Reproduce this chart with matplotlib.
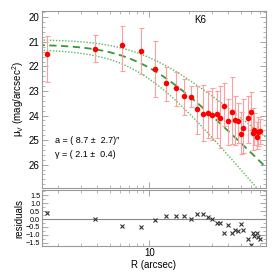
import numpy as np
import matplotlib
matplotlib.use("Agg")
import matplotlib.pyplot as plt
from matplotlib.ticker import MultipleLocator, FixedLocator, NullFormatter

plt.rcParams['font.family'] = ['Liberation Sans', 'DejaVu Sans']
plt.rcParams['mathtext.default'] = 'regular'

# data
radius = [1.65, 3.81, 6.21, 8.61, 10.98, 13.4, 15.96, 18.3, 20.8, 23.2,
          25.6, 27.9, 30.2, 32.7, 34.8, 37.3, 40.1, 42.7, 44.8, 47.4,
          49.9, 52.2, 57.0, 59.6, 61.3, 63.1, 65.8, 67.3, 70.4]
mu = [21.51, 21.29, 21.13, 21.37, 22.12, 22.69, 22.89, 23.20, 23.23, 23.74,
      23.95, 23.91, 23.98, 23.92, 24.11, 23.63, 24.21, 23.85, 24.20, 24.21,
      24.77, 24.52, 24.11, 23.84, 24.70, 24.59, 24.87, 24.66, 24.64]
err_bright = [0.75, 0.57, 0.77, 0.92, 1.15, 0.68, 0.67, 0.69, 0.43, 0.95,
              1.20, 0.90, 1.10, 0.90, 1.30, 0.95, 0.90, 1.40, 1.00, 0.70,
              0.90, 1.20, 0.90, 0.80, 1.00, 0.70, 0.60, 0.60, 0.50]
err_faint = [1.11, 0.54, 1.06, 0.95, 1.11, 0.72, 0.72, 0.78, 0.43, 1.00,
             1.10, 1.00, 1.00, 1.00, 1.20, 0.80, 1.00, 1.30, 1.00, 0.90,
             0.80, 1.00, 1.00, 0.75, 0.70, 0.60, 0.50, 0.60, 0.50]
resid = [0.41, 0.03, -0.41, -0.48, -0.05, 0.22, 0.16, 0.20, 0.03, 0.31,
         0.33, 0.10, 0.01, -0.24, -0.22, -0.86, -0.37, -0.88, -0.67, -0.73,
         -0.33, -0.69, -1.26, -1.61, -0.86, -1.05, -0.86, -1.12, -1.24]

# fitted profile parameters (best, bright bound, faint bound)
fit_best = (21.1, 8.7, 2.1)
fit_bright = (20.9, 9.0, 1.7)
fit_faint = (21.3, 8.3, 2.5)


def profile(r, mu0, a, gamma):
    return mu0 + 1.25 * gamma * np.log10(1 + (r / a) ** 2)


spine_col = '#999999'
fig = plt.figure(figsize=(2.74, 2.74), dpi=100)
ax = fig.add_axes([0.1515, 0.314, 0.8175, 0.647])
axr = fig.add_axes([0.1515, 0.102, 0.8175, 0.203])

rr = np.logspace(np.log10(1.4), np.log10(80), 200)
ax.plot(rr, profile(rr, *fit_bright), ls=(0, (1, 1.2)), color='#5cb85c', lw=1.0)
ax.plot(rr, profile(rr, *fit_faint), ls=(0, (1, 1.2)), color='#5cb85c', lw=1.0)
ax.plot(rr, profile(rr, *fit_best), ls=(0, (4, 2.5)), color='#3a963a', lw=1.3)

ax.errorbar(radius, mu, yerr=[err_bright, err_faint], fmt='none',
            ecolor='#ff9e9e', elinewidth=0.8, capsize=1.8, capthick=0.8)
ax.plot(radius, mu, 'o', color='#ff0000', ms=4, mec='none')

ax.set_xscale('log')
ax.set_xlim(1.5, 77)
ax.set_ylim(26.95, 19.73)
ax.yaxis.set_major_locator(MultipleLocator(1))
ax.yaxis.set_minor_locator(MultipleLocator(0.2))
ax.set_ylabel(r'$\mu_V$ (mag/arcsec$^2$)', fontsize=7, labelpad=2)
ax.xaxis.set_major_formatter(NullFormatter())
ax.xaxis.set_minor_formatter(NullFormatter())

ax.text(0.68, 0.93, 'K6', transform=ax.transAxes, fontsize=7)
ax.text(0.06, 0.255, 'a = ( 8.7 \u00b1  2.7)\u2033', transform=ax.transAxes, fontsize=6.5)
ax.text(0.06, 0.175, '\u03b3 = ( 2.1 \u00b1  0.4)', transform=ax.transAxes, fontsize=6.5)

axr.axhline(0, color='#888888', lw=0.8)
axr.plot(radius, resid, 'x', color='#333333', ms=3, mew=0.8)
axr.set_xscale('log')
axr.set_xlim(1.5, 77)
axr.set_ylim(-1.7, 1.8)
axr.set_yticks([1.5, 1.0, 0.5, 0.0, -0.5, -1.0, -1.5])
axr.yaxis.set_minor_locator(MultipleLocator(0.25))
axr.set_ylabel('residuals', fontsize=7, labelpad=1)
axr.set_xlabel('R (arcsec)', fontsize=7, labelpad=1)
axr.xaxis.set_major_locator(FixedLocator([10]))
axr.set_xticklabels(['10'])
axr.xaxis.set_minor_formatter(NullFormatter())

for a_ in (ax, axr):
    for s in a_.spines.values():
        s.set_color(spine_col)
        s.set_linewidth(0.8)
    a_.tick_params(which='both', direction='in', top=True, right=True,
                   color=spine_col, labelsize=7, pad=1.5)
    a_.tick_params(which='major', length=4, width=0.6)
    a_.tick_params(which='minor', length=2, width=0.5)
axr.tick_params(axis='y', labelsize=5.2, pad=1)

fig.savefig('out.png', dpi=100)
